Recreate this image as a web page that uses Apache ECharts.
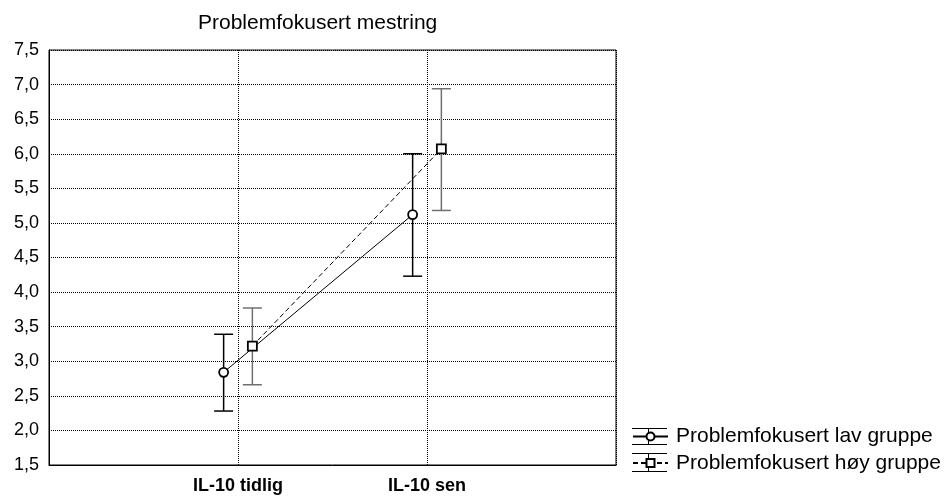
<!DOCTYPE html>
<html><head><meta charset="utf-8">
<script src="https://cdn.jsdelivr.net/npm/echarts@6/dist/echarts.min.js"></script>
<style>html,body{margin:0;padding:0;background:#fff}#c{width:946px;height:498px}</style>
</head><body><div id="c"></div>
<script>
const chartTitle = 'Problemfokusert mestring';
const categories = ['IL-10 tidlig', 'IL-10 sen'];
const seriesNames = ['Problemfokusert lav gruppe', 'Problemfokusert høy gruppe'];
const lavMean  = [2.84, 5.12];
const lavUpper = [3.39, 6.00];
const lavLower = [2.28, 4.23];
const hoyMean  = [3.22, 6.07];
const hoyUpper = [3.77, 6.94];
const hoyLower = [2.66, 5.18];

const FONT = 'Arial, "Liberation Sans", sans-serif';
const OFFSET = 0.076;
function pts(mean, dx) { return mean.map((v, i) => [i + 1 + dx, v]); }
function bars(lo, hi, dx) { return lo.map((v, i) => [i + 1 + dx, v, hi[i]]); }
function errRender(color) {
  return function (params, api) {
    const x = api.value(0), lo = api.value(1), hi = api.value(2);
    const pLo = api.coord([x, lo]), pHi = api.coord([x, hi]);
    const w = 9.5;
    const style = { stroke: color, lineWidth: 1.5, fill: null };
    return { type: 'group', children: [
      { type: 'line', shape: { x1: pLo[0], y1: pLo[1], x2: pHi[0], y2: pHi[1] }, style },
      { type: 'line', shape: { x1: pLo[0] - w, y1: pLo[1], x2: pLo[0] + w, y2: pLo[1] }, style },
      { type: 'line', shape: { x1: pHi[0] - w, y1: pHi[1], x2: pHi[0] + w, y2: pHi[1] }, style }
    ]};
  };
}

const chart = echarts.init(document.getElementById('c'), null, { renderer: 'canvas' });

// legend cap decorations
const legX0 = 632, legX1 = 667, legXc = 648;
const rowC = [436, 461.5];
const capTop = [8, 8.5], capBot = [7.5, 9.5];
const legendDeco = [];
rowC.forEach((c, i) => {
  const col = '#000';
  const t = Math.round(c - capTop[i]) + 0.5, b = Math.round(c + capBot[i]) + 0.5;
  legendDeco.push({ type: 'line', shape: { x1: legX0, y1: t, x2: legX1, y2: t }, style: { stroke: col, lineWidth: 1 } });
  legendDeco.push({ type: 'line', shape: { x1: legX0, y1: b, x2: legX1, y2: b }, style: { stroke: col, lineWidth: 1 } });
  legendDeco.push({ type: 'line', shape: { x1: legXc + 0.5, y1: t, x2: legXc + 0.5, y2: b }, style: { stroke: col, lineWidth: 1 }, z: 1 });
});

chart.setOption({
  animation: false,
  backgroundColor: '#fff',
  textStyle: { fontFamily: FONT },
  title: {
    text: chartTitle, left: 193, top: 8,
    textStyle: { fontSize: 21, fontWeight: 'normal', color: '#000', fontFamily: FONT }
  },
  grid: { left: 49, right: 330, top: 50, bottom: 33, show: true, borderColor: '#000', borderWidth: 1, backgroundColor: 'transparent' },
  xAxis: {
    type: 'value', min: 0, max: 3, interval: 1,
    axisLine: { show: true, lineStyle: { color: '#000', width: 1 } },
    axisTick: { show: false },
    axisLabel: {
      formatter: v => categories[Math.round(v) - 1] || '',
      fontSize: 18, fontWeight: 'bold', color: '#000', margin: 12, fontFamily: FONT
    },
    splitLine: { show: true, lineStyle: { color: '#000', type: [1, 1], width: 1 } }
  },
  yAxis: {
    type: 'value', min: 1.5, max: 7.5, interval: 0.5,
    axisLine: { show: true, lineStyle: { color: '#000', width: 1 } },
    axisTick: { show: false },
    axisLabel: {
      formatter: v => v.toFixed(1).replace('.', ','),
      fontSize: 18, color: '#000', margin: 10, fontFamily: FONT
    },
    splitLine: { show: true, lineStyle: { color: '#000', type: [1, 1], width: 1 } }
  },
  legend: {
    orient: 'vertical', left: legX0, top: rowC[0] - 10,
    itemWidth: legX1 - legX0, itemHeight: 10, itemGap: 5.5, padding: 0,
    textStyle: { fontSize: 21, color: '#000', lineHeight: 20, fontFamily: FONT, padding: [0, 0, 0, 3] },
    data: seriesNames
  },
  graphic: legendDeco,
  series: [
    {
      type: 'custom', name: 'lavErr', renderItem: errRender('#000'),
      data: bars(lavLower, lavUpper, -OFFSET), encode: { x: 0, y: [1, 2] }, z: 2, silent: true
    },
    {
      type: 'custom', name: 'hoyErr', renderItem: errRender('#707070'),
      data: bars(hoyLower, hoyUpper, OFFSET), encode: { x: 0, y: [1, 2] }, z: 2, silent: true
    },
    {
      type: 'line', name: seriesNames[0], data: pts(lavMean, -OFFSET),
      symbol: 'circle', symbolSize: 9, z: 5,
      itemStyle: { color: '#fff', borderColor: '#000', borderWidth: 1.8 },
      lineStyle: { color: '#000', width: 1 }
    },
    {
      type: 'line', name: seriesNames[1], data: pts(hoyMean, OFFSET),
      symbol: 'rect', symbolSize: 9, z: 5,
      itemStyle: { color: '#fff', borderColor: '#000', borderWidth: 1.8 },
      lineStyle: { color: '#000', width: 1, type: [5, 3] }
    }
  ]
});
</script></body></html>
